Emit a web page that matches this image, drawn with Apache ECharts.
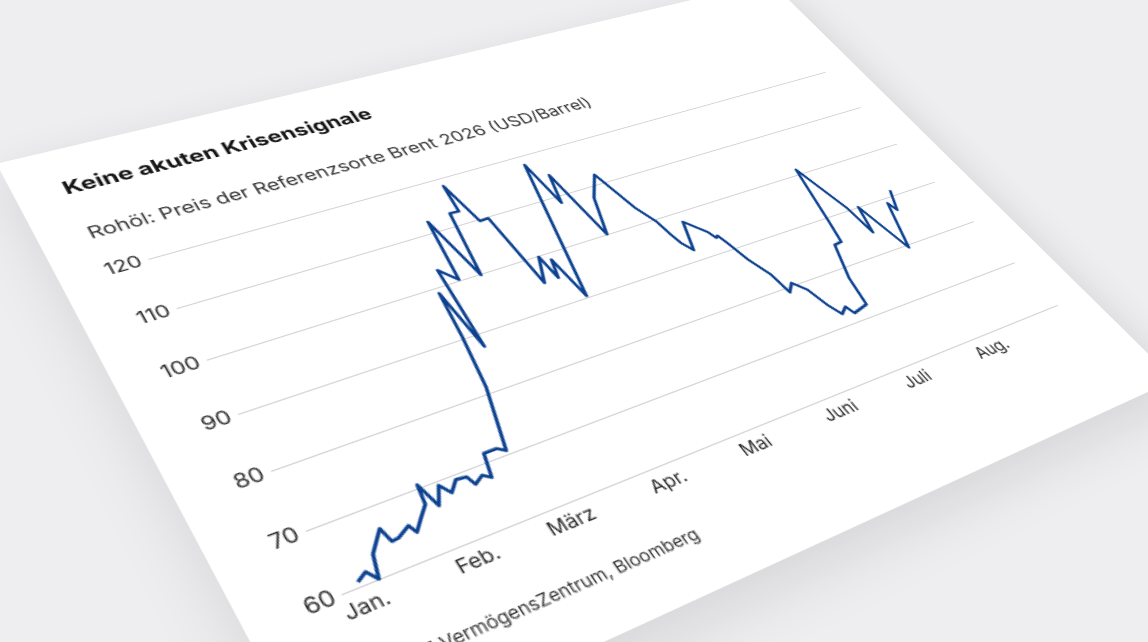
<!DOCTYPE html>
<html>
<head>
<meta charset="UTF-8">
<title>Keine akuten Krisensignale</title>
<script src="https://cdn.jsdelivr.net/npm/echarts@6/dist/echarts.min.js"></script>
<style>
html, body { margin:0; padding:0; width:1148px; height:642px; overflow:hidden; background:#eeeef0; }
#card {
    position:absolute; left:0; top:0;
    width:739px; height:545px;
    background:#fff;
    transform-origin:0 0;
    box-shadow:0 14px 44px rgba(0,0,0,0.11);
}
</style>
</head>
<body>
<div id="card"></div>
<script>
// Brent 2026, USD/Barrel
var dates = [
    '2026-01-02','2026-01-05','2026-01-07','2026-01-09','2026-01-14','2026-01-15','2026-01-17','2026-01-21',
    '2026-01-22','2026-01-25','2026-01-28','2026-01-29','2026-01-31','2026-02-03','2026-02-05','2026-02-08',
    '2026-02-11','2026-02-12','2026-02-15','2026-02-17','2026-02-19','2026-02-23','2026-02-25','2026-03-03',
    '2026-03-06','2026-03-08','2026-03-10','2026-03-12','2026-03-16','2026-03-19','2026-03-23','2026-03-27',
    '2026-03-30','2026-03-31','2026-04-03','2026-04-06','2026-04-08','2026-04-12','2026-04-13','2026-04-15',
    '2026-04-17','2026-04-29','2026-05-01','2026-05-04','2026-05-07','2026-05-12','2026-05-18','2026-05-22',
    '2026-05-25','2026-05-26','2026-05-27','2026-05-29','2026-06-02','2026-06-07','2026-06-08','2026-06-09',
    '2026-06-10','2026-06-12','2026-06-15','2026-06-16','2026-06-19','2026-06-22','2026-06-24','2026-06-26',
    '2026-06-29','2026-06-30','2026-07-06','2026-07-08','2026-07-13','2026-07-16','2026-07-18','2026-07-23',
    '2026-07-28','2026-07-29','2026-08-01','2026-08-05','2026-08-12','2026-08-13','2026-08-17'
];
var brent = [
    60.7, 61.6, 60.0, 63.5, 66.5, 64.2, 64.3, 65.4,
    64.1, 65.8, 67.4, 70.5, 66.5, 69.3, 67.6, 69.2,
    69.0, 67.5, 68.4, 67.6, 71.4, 71.4, 70.6, 81.1,
    90.5, 98.9, 87.6, 103.0, 100.2, 112.3, 99.8, 112.7,
    112.6, 118.3, 109.6, 109.7, 94.9, 99.8, 95.0, 98.6,
    90.3, 118.0, 108.5, 114.6, 100.0, 107.6, 112.1, 103.3,
    99.5, 96.4, 94.1, 92.1, 97.9, 94.5, 93.0, 93.3,
    91.5, 87.2, 83.2, 79.0, 80.5, 78.4, 74.6, 72.2,
    73.2, 71.6, 72.3, 77.8, 84.5, 84.7, 89.1, 101.1,
    90.5, 84.4, 90.0, 79.4, 88.9, 87.0, 91.2
];
var monthLabels = ['Jan.', 'Feb.', 'März', 'Apr.', 'Mai', 'Juni', 'Juli', 'Aug.'];
var yTicks = { min: 60, max: 120, step: 10 };

// Tage der x-Achse (Kategorien)
var axisDays = [];
for (var t = Date.UTC(2025, 11, 28); t <= Date.UTC(2026, 8, 4); t += 86400000) {
    axisDays.push(new Date(t).toISOString().slice(0, 10));
}

var font = 'Inter, "Noto Sans", sans-serif';
var plot = { x: 64, y: 132, w: 640, h: 312 };

var card = document.getElementById('card');
var myChart = echarts.init(card, null, { devicePixelRatio: 2 });

var option = {
    animation: false,
    title: [{
        text: 'Keine akuten Krisensignale',
        left: 35, top: 34, padding: 0,
        textStyle: { fontFamily: font, fontSize: 19, fontWeight: 'bold', color: '#141414' }
    }, {
        text: 'Rohöl: Preis der Referenzsorte Brent 2026 (USD/Barrel)',
        left: 35, top: 85, padding: 0,
        textStyle: { fontFamily: font, fontSize: 16.7, fontWeight: 'normal', color: '#333' }
    }, {
        text: 'Quelle: VZ VermögensZentrum, Bloomberg',
        left: 35, top: 496, padding: 0,
        textStyle: { fontFamily: font, fontSize: 13, fontWeight: 'normal', color: '#333' }
    }],
    grid: { left: plot.x, top: plot.y, width: plot.w, height: plot.h, outerBoundsMode: 'none' },
    xAxis: {
        type: 'category',
        data: axisDays,
        boundaryGap: false,
        axisLine: { show: true, lineStyle: { color: '#d2d2d6', width: 1 } },
        axisTick: { show: false },
        splitLine: { show: false },
        axisLabel: {
            margin: 7,
            fontFamily: font, fontSize: 15, color: '#2a2a2a',
            interval: function (i, v) {
                return v.slice(0, 4) === '2026' && v.slice(8) === '01' && +v.slice(5, 7) <= monthLabels.length;
            },
            formatter: function (v) { return monthLabels[+v.slice(5, 7) - 1]; }
        }
    },
    yAxis: {
        type: 'value',
        min: yTicks.min, max: yTicks.max, interval: yTicks.step,
        axisLine: { show: false },
        axisTick: { show: false },
        splitLine: { lineStyle: { color: '#d2d2d6', width: 1 } },
        axisLabel: { margin: 5, fontFamily: font, fontSize: 16, color: '#2a2a2a' }
    },
    series: [{
        name: 'Brent',
        type: 'line',
        data: dates.map(function (d, i) { return [axisDays.indexOf(d), brent[i]]; }),
        symbol: 'none',
        lineStyle: { color: '#0c4190', width: 2.6, join: 'round' }
    }]
};
myChart.setOption(option);

// Schräge Ansicht der Karte: Plotfläche auf das Viereck im Bild abbilden
function squareToQuad(q) {
    var x0 = q[0][0], y0 = q[0][1], x1 = q[1][0], y1 = q[1][1];
    var x2 = q[2][0], y2 = q[2][1], x3 = q[3][0], y3 = q[3][1];
    var sx = x0 - x1 + x2 - x3, sy = y0 - y1 + y2 - y3;
    var dx1 = x1 - x2, dx2 = x3 - x2, dy1 = y1 - y2, dy2 = y3 - y2;
    var den = dx1 * dy2 - dx2 * dy1;
    var g = (sx * dy2 - sy * dx2) / den, h = (dx1 * sy - dy1 * sx) / den;
    return [[x1 - x0 + g * x1, x3 - x0 + h * x3, x0],
            [y1 - y0 + g * y1, y3 - y0 + h * y3, y0],
            [g, h, 1]];
}
function mul(A, B) {
    var C = [[0,0,0],[0,0,0],[0,0,0]];
    for (var i = 0; i < 3; i++) for (var j = 0; j < 3; j++)
        for (var k = 0; k < 3; k++) C[i][j] += A[i][k] * B[k][j];
    return C;
}
// Ecken der Plotfläche: unten links, unten rechts, oben rechts, oben links
var quad = [[342, 594], [1057, 305], [825, 72], [148, 259]];
var S = [[1 / plot.w, 0, -plot.x / plot.w], [0, -1 / plot.h, (plot.y + plot.h) / plot.h], [0, 0, 1]];
var M = mul(squareToQuad(quad), S);
card.style.transform = 'matrix3d(' + [
    M[0][0], M[1][0], 0, M[2][0],
    M[0][1], M[1][1], 0, M[2][1],
    0, 0, 1, 0,
    M[0][2], M[1][2], 0, M[2][2]
].join(',') + ')';
</script>
</body>
</html>
